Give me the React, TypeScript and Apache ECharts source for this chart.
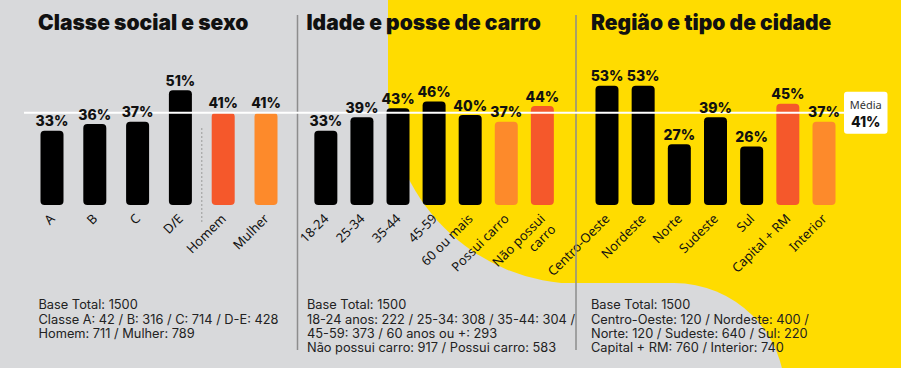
import React, { useEffect, useRef } from 'react';
import * as echarts from 'echarts';

const classCategories = ['A', 'B', 'C', 'D/E', 'Homem', 'Mulher'];
const classValues = [33, 36, 37, 51, 41, 41];
const ageCategories = ['18-24', '25-34', '35-44', '45-59', '60 ou mais', 'Possui carro', 'Não possui carro'];
const ageValues = [33, 39, 43, 46, 40, 37, 44];
const regionCategories = ['Centro-Oeste', 'Nordeste', 'Norte', 'Sudeste', 'Sul', 'Capital + RM', 'Interior'];
const regionValues = [53, 53, 27, 39, 26, 45, 37];
const average = 41;
const averageLabel = 'Média';

const titles = ['Classe social e sexo', 'Idade e posse de carro', 'Região e tipo de cidade'];
const notes1 = ['Base Total: 1500', 'Classe A: 42 / B: 316 / C: 714 / D-E: 428', 'Homem: 711 / Mulher: 789'];
const notes2 = [
  'Base Total: 1500',
  '18-24 anos: 222 / 25-34: 308 / 35-44: 304 /',
  '45-59: 373 / 60 anos ou +: 293',
  'Não possui carro: 917 / Possui carro: 583',
];
const notes3 = [
  'Base Total: 1500',
  'Centro-Oeste: 120 / Nordeste: 400 /',
  'Norte: 120 / Sudeste: 640 / Sul: 220',
  'Capital + RM: 760 / Interior: 740',
];

// styling
const BLACK = '#000000';
const RED = '#f5582b';
const ORANGE = '#fd8a2b';
const YELLOW = '#ffdc00';
const GRAY = '#d8d9db';
const classColors = [BLACK, BLACK, BLACK, BLACK, RED, ORANGE];
const ageColors = [BLACK, BLACK, BLACK, BLACK, BLACK, ORANGE, RED];
const regionColors = [BLACK, BLACK, BLACK, BLACK, BLACK, RED, ORANGE];

const FONT = 'Inter';
const LABEL_FONT = 'Noto Sans';

function App() {
  const ref = useRef<HTMLDivElement>(null);
  useEffect(() => {
    document.body.style.margin = '0';
    const chart = echarts.init(ref.current!, null, { renderer: 'svg' });
    const grids = [
      { left: 30.6, width: 256.8 },
      { left: 307.8, width: 252.6 },
      { left: 588.9, width: 253.2 },
    ].map((g) => ({ ...g, top: 25, height: 180, outerBoundsMode: 'none', containLabel: false }));
    const cats = [classCategories, ageCategories, regionCategories];
    const vals = [classValues, ageValues, regionValues];
    const cols = [classColors, ageColors, regionColors];
    const option: any = {
      animation: false,
      backgroundColor: GRAY,
      grid: grids,
      xAxis: cats.map((c, i) => ({
        type: 'category',
        gridIndex: i,
        data: c,
        axisLine: { show: false },
        axisTick: { show: false },
        axisLabel: {
          interval: 0,
          rotate: 45,
          margin: 11,
          fontFamily: LABEL_FONT,
          fontSize: 13,
          color: '#111',
          lineHeight: 15,
          formatter: (v: string) => (v === 'Não possui carro' ? '\nNão possui\ncarro' : v),
        },
      })),
      yAxis: cats.map((_, i) => ({
        type: 'value',
        gridIndex: i,
        min: 0,
        max: 80,
        show: false,
      })),
      series: vals.map((v, i) => ({
        type: 'bar',
        xAxisIndex: i,
        yAxisIndex: i,
        z: 2,
        barWidth: 23,
        data: v.map((val, j) => ({ value: val, itemStyle: { color: cols[i][j] } })),
        itemStyle: { borderRadius: 4 },
        label: {
          show: true,
          position: 'top',
          distance: 3,
          formatter: '{c}%',
          fontFamily: FONT,
          fontWeight: 800,
          fontSize: 14,
          color: '#111',
        },
      })),
    };
    chart.setOption(option);

    const avgY = chart.convertToPixel({ gridIndex: 0 } as any, [0, average])[1];
    const p3 = chart.convertToPixel({ xAxisIndex: 0, yAxisIndex: 0 } as any, [3, 0]);
    const p4 = chart.convertToPixel({ xAxisIndex: 0, yAxisIndex: 0 } as any, [4, 0]);
    const dotX = (p3[0] + p4[0]) / 2;

    const noteStyle = (x: number, lines: string[]) => ({
      type: 'text',
      x,
      y: 297.5,
      z: 5,
      style: {
        text: lines.join('\n'),
        fontFamily: FONT,
        fontSize: 12.8,
        lineHeight: 14.4,
        fill: '#222',
        align: 'left',
        verticalAlign: 'top',
      },
    });
    const titleStyle = (x: number, t: string) => ({
      type: 'text',
      x,
      y: 22,
      z: 5,
      style: {
        text: t,
        fontFamily: FONT,
        fontWeight: 900,
        fontSize: 21,
        fill: '#111',
        align: 'left',
        verticalAlign: 'middle',
      },
    });

    chart.setOption({
      graphic: [
        { type: 'rect', z: -10, shape: { x: 388, y: -10, width: 600, height: 294, r: [0, 0, 0, 192] }, style: { fill: YELLOW } },
        { type: 'rect', z: -10, shape: { x: 600, y: 200, width: 320, height: 200 }, style: { fill: YELLOW } },
        { type: 'rect', z: -9, shape: { x: -10, y: 283, width: 795, height: 300, r: [0, 111, 0, 0] }, style: { fill: GRAY } },
        { type: 'line', z: 1, shape: { x1: 297.5, y1: 15, x2: 297.5, y2: 350 }, style: { stroke: '#8d8d8d', lineWidth: 1.5 } },
        { type: 'line', z: 1, shape: { x1: 576, y1: 15, x2: 576, y2: 350 }, style: { stroke: '#8d8d8d', lineWidth: 1.5 } },
        { type: 'line', z: 1, shape: { x1: dotX, y1: 128, x2: dotX, y2: 222 }, style: { stroke: '#9a9a9a', lineWidth: 1, lineDash: [2, 2] } },
        { type: 'line', z: 2, z2: 1, shape: { x1: 24, y1: avgY, x2: 844, y2: avgY }, style: { stroke: '#ffffff', lineWidth: 2 } },
        { type: 'rect', z: 10, shape: { x: 844, y: avgY - 21, width: 43.5, height: 42, r: 3 }, style: { fill: '#ffffff' } },
        {
          type: 'text', z: 11, x: 865.7, y: avgY - 8.5,
          style: { text: averageLabel, fontFamily: LABEL_FONT, fontSize: 11, fill: '#333', align: 'center', verticalAlign: 'middle' },
        },
        {
          type: 'text', z: 11, x: 865.7, y: avgY + 8.5,
          style: { text: average + '%', fontFamily: FONT, fontWeight: 800, fontSize: 14, fill: '#111', align: 'center', verticalAlign: 'middle' },
        },
        titleStyle(38, titles[0]),
        titleStyle(306.5, titles[1]),
        titleStyle(591, titles[2]),
        noteStyle(38.5, notes1),
        noteStyle(307, notes2),
        noteStyle(591, notes3),
      ],
    });
    return () => chart.dispose();
  }, []);
  return <div ref={ref} style={{ width: 901, height: 368 }} />;
}

export default App;
